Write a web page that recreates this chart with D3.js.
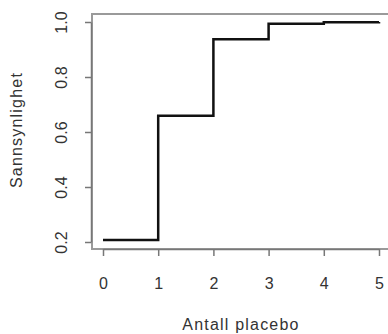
<!DOCTYPE html>
<html><head><meta charset="utf-8">
<script src="https://cdn.jsdelivr.net/npm/d3@7"></script>
<style>body{margin:0;background:#fff}svg{display:block}</style>
</head><body>
<script>
const counts = [0, 1, 2, 3, 4, 5];
const probs = [0.207, 0.659, 0.937, 0.994, 0.9995, 1.0];
const xTicks = [0, 1, 2, 3, 4, 5];
const yTicks = [0.2, 0.4, 0.6, 0.8, 1.0];
const xLabel = "Antall placebo";
const yLabel = "Sannsynlighet";

const W = 388, H = 334;
const svg = d3.select("body").append("svg").attr("width", W).attr("height", H);
const x = d3.scaleLinear().domain([0, 5]).range([103, 379]);
const y = d3.scaleLinear().domain([0.2, 1.0]).range([242, 22]);
const font = "Liberation Sans, Arial, sans-serif";
const fs = 16, ls = 1.2;

// box (bounding plot region)
svg.append("path")
  .attr("d", `M${W + 5},14 H92 V249 H${W + 5}`)
  .attr("fill", "none").attr("stroke", "#9a9a9a").attr("stroke-width", 2);

// x axis
const xa = svg.append("g").attr("transform", "translate(0,249)")
  .call(d3.axisBottom(x).tickValues(xTicks).tickFormat(d3.format("d")).tickSize(7).tickSizeOuter(0));
xa.select(".domain").attr("stroke", "#777").attr("stroke-width", 1.5);
xa.selectAll(".tick line").attr("stroke", "#777").attr("stroke-width", 1.5);
xa.selectAll("text").attr("font-family", font).attr("font-size", fs).attr("fill", "#333")
  .attr("y", 40).attr("dy", null);

// y axis
const ya = svg.append("g").attr("transform", "translate(91,0)")
  .call(d3.axisLeft(y).tickValues(yTicks).tickFormat(d3.format(".1f")).tickSize(6).tickSizeOuter(0));
ya.select(".domain").attr("stroke", "#777").attr("stroke-width", 1.5);
ya.selectAll(".tick line").attr("stroke", "#777").attr("stroke-width", 1.5);
ya.selectAll("text").attr("font-family", font).attr("font-size", fs).attr("fill", "#333")
  .attr("text-anchor", "middle").attr("dy", null).attr("x", 0)
  .attr("transform", "translate(-24,0) rotate(-90)");

// step line
const data = counts.map((c, i) => [c, probs[i]]);
const line = d3.line().x(d => x(d[0])).y(d => y(d[1])).curve(d3.curveStepAfter);
svg.append("path").datum(data).attr("d", line)
  .attr("fill", "none").attr("stroke", "#111").attr("stroke-width", 2.5);

// labels
svg.append("text").attr("x", 241).attr("y", 330).attr("text-anchor", "middle")
  .attr("font-family", font).attr("font-size", fs).attr("letter-spacing", ls).attr("fill", "#333").text(xLabel);
svg.append("text").attr("transform", `translate(22,130) rotate(-90)`).attr("text-anchor", "middle")
  .attr("font-family", font).attr("font-size", fs).attr("letter-spacing", ls).attr("fill", "#333").text(yLabel);
</script>
</body></html>
